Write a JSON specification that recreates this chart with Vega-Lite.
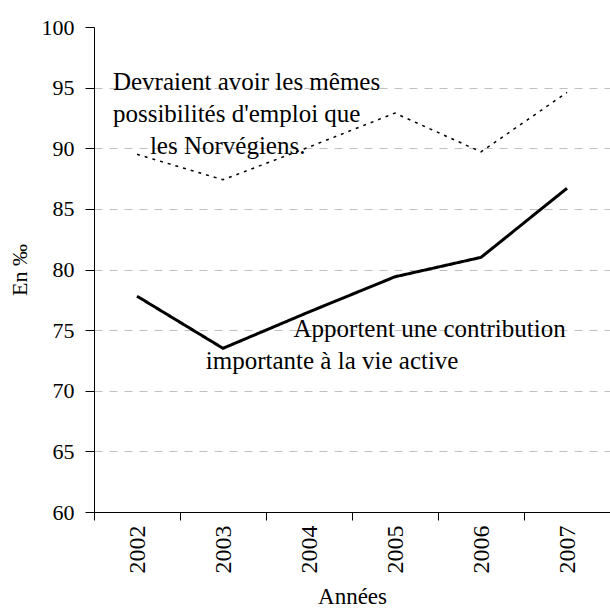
{
  "$schema": "https://vega.github.io/schema/vega-lite/v6.json",
  "width": 516,
  "height": 485,
  "autosize": {"type": "none"},
  "padding": {"left": 94, "top": 27, "right": 0, "bottom": 98},
  "background": "white",
  "config": {
    "font": "Liberation Serif",
    "view": {"stroke": null},
    "text": {"font": "Liberation Serif"},
    "axis": {
      "domainColor": "black",
      "tickColor": "black",
      "labelColor": "black",
      "titleColor": "black",
      "titleFontWeight": "normal",
      "labelFont": "Liberation Serif",
      "titleFont": "Liberation Serif"
    }
  },
  "datasets": {
    "series": [
      {"year": "2002", "serie": "Devraient avoir les mêmes possibilités d'emploi que les Norvégiens", "value": 89.5},
      {"year": "2003", "serie": "Devraient avoir les mêmes possibilités d'emploi que les Norvégiens", "value": 87.4},
      {"year": "2004", "serie": "Devraient avoir les mêmes possibilités d'emploi que les Norvégiens", "value": 90.1},
      {"year": "2005", "serie": "Devraient avoir les mêmes possibilités d'emploi que les Norvégiens", "value": 92.9},
      {"year": "2006", "serie": "Devraient avoir les mêmes possibilités d'emploi que les Norvégiens", "value": 89.7},
      {"year": "2007", "serie": "Devraient avoir les mêmes possibilités d'emploi que les Norvégiens", "value": 94.6},
      {"year": "2002", "serie": "Apportent une contribution importante à la vie active", "value": 77.8},
      {"year": "2003", "serie": "Apportent une contribution importante à la vie active", "value": 73.5},
      {"year": "2004", "serie": "Apportent une contribution importante à la vie active", "value": 76.5},
      {"year": "2005", "serie": "Apportent une contribution importante à la vie active", "value": 79.4},
      {"year": "2006", "serie": "Apportent une contribution importante à la vie active", "value": 81.0},
      {"year": "2007", "serie": "Apportent une contribution importante à la vie active", "value": 86.7}
    ],
    "labels": [
      {"label": "Devraient avoir les mêmes", "xpos": 2001.72, "value": 94.81},
      {"label": "possibilités d'emploi que", "xpos": 2001.72, "value": 92.13},
      {"label": "les Norvégiens.", "xpos": 2002.15, "value": 89.5},
      {"label": "Apportent une contribution", "xpos": 2003.82, "value": 74.4},
      {"label": "importante à la vie active", "xpos": 2002.8, "value": 71.79}
    ]
  },
  "encoding": {
    "y": {
      "field": "value",
      "type": "quantitative",
      "scale": {"domain": [60, 100], "nice": false, "zero": false},
      "axis": {
        "title": "En ‰",
        "titleFontSize": 22,
        "titlePadding": 10,
        "values": [60, 65, 70, 75, 80, 85, 90, 95, 100],
        "labelFontSize": 22,
        "labelPadding": 11,
        "tickSize": 9,
        "grid": true,
        "gridColor": "#c0c0c0",
        "gridDash": [8, 7],
        "gridOpacity": {"condition": {"test": "datum.value === 100", "value": 0}, "value": 1}
      }
    }
  },
  "layer": [
    {
      "data": {"name": "series"},
      "mark": {"type": "line", "color": "black"},
      "encoding": {
        "x": {
          "field": "year",
          "type": "ordinal",
          "scale": {"type": "band", "paddingInner": 0, "paddingOuter": 0},
          "axis": {
            "title": "Années",
            "titleFontSize": 23,
            "titlePadding": 12,
            "labelAngle": -90,
            "labelFontSize": 24,
            "labelPadding": 5,
            "tickSize": 8,
            "tickBand": "extent",
            "grid": false
          }
        },
        "detail": {"field": "serie"},
        "strokeDash": {
          "field": "serie",
          "type": "nominal",
          "scale": {
            "domain": ["Devraient avoir les mêmes possibilités d'emploi que les Norvégiens", "Apportent une contribution importante à la vie active"],
            "range": [[3, 5], [1, 0]]
          },
          "legend": null
        },
        "strokeWidth": {
          "field": "serie",
          "type": "nominal",
          "scale": {
            "domain": ["Devraient avoir les mêmes possibilités d'emploi que les Norvégiens", "Apportent une contribution importante à la vie active"],
            "range": [1.5, 3]
          },
          "legend": null
        }
      }
    },
    {
      "data": {"name": "labels"},
      "mark": {"type": "text", "align": "left", "baseline": "alphabetic", "fontSize": 25, "font": "Liberation Serif", "color": "black"},
      "encoding": {
        "x": {
          "field": "xpos",
          "type": "quantitative",
          "scale": {"domain": [2001.5, 2007.5], "nice": false, "zero": false},
          "axis": null
        },
        "text": {"field": "label"}
      }
    }
  ],
  "resolve": {"scale": {"x": "independent"}}
}
